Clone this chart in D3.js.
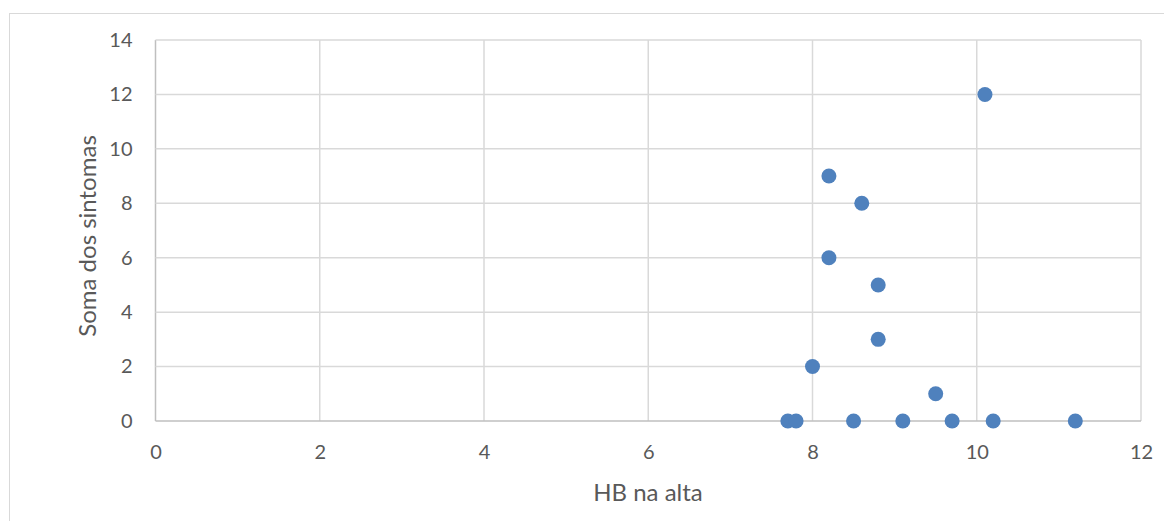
<!DOCTYPE html>
<html>
<head>
<meta charset="utf-8">
<script src="https://cdn.jsdelivr.net/npm/d3@7"></script>
<style>
  html, body { margin: 0; padding: 0; background: #fff; }
  svg { display: block; font-family: Lato, "Open Sans", sans-serif; }
</style>
</head>
<body>
<svg id="chart" width="1164" height="521"></svg>
<script>
// Hemoglobin at discharge vs. sum of symptoms
const hbValues = [10.1, 8.2, 8.6, 8.2, 8.8, 8.8, 8.0, 9.5, 7.7, 7.8, 8.5, 9.1, 9.7, 10.2, 11.2];
const symptomSums = [12, 9, 8, 6, 5, 3, 2, 1, 0, 0, 0, 0, 0, 0, 0];
const xTicks = [0, 2, 4, 6, 8, 10, 12];
const yTicks = [0, 2, 4, 6, 8, 10, 12, 14];
const xTitle = "HB na alta";
const yTitle = "Soma dos sintomas";

const svg = d3.select("#chart");
const W = 1164, H = 521;
const plot = { left: 155.5, right: 1141, top: 40, bottom: 421 };
const textColor = "#595959";

// outer chart frame
svg.append("rect")
  .attr("x", 9.5).attr("y", 13.5)
  .attr("width", W + 10).attr("height", H + 10)
  .attr("fill", "none").attr("stroke", "#d9d9d9").attr("stroke-width", 1);

const x = d3.scaleLinear().domain([0, 12]).range([plot.left, plot.right]);
const y = d3.scaleLinear().domain([0, 14]).range([plot.bottom, plot.top]);

// gridlines
const grid = svg.append("g");
grid.selectAll(".vg").data(xTicks).join("line")
  .attr("x1", d => x(d)).attr("x2", d => x(d))
  .attr("y1", plot.top).attr("y2", plot.bottom)
  .attr("stroke", d => d === 0 ? "#bfbfbf" : "#d9d9d9").attr("stroke-width", 1.5);
grid.selectAll(".hg").data(yTicks).join("line")
  .attr("x1", plot.left).attr("x2", plot.right)
  .attr("y1", d => y(d)).attr("y2", d => y(d))
  .attr("stroke", d => d === 0 ? "#bfbfbf" : "#d9d9d9").attr("stroke-width", 1.5);

// axes (labels only)
const xAxis = d3.axisBottom(x).tickValues(xTicks).tickSize(0).tickPadding(24).tickFormat(d3.format("d"));
const yAxis = d3.axisLeft(y).tickValues(yTicks).tickSize(0).tickPadding(23).tickFormat(d3.format("d"));

const gx = svg.append("g").attr("transform", `translate(0,${plot.bottom})`).call(xAxis);
const gy = svg.append("g").attr("transform", `translate(${plot.left},0)`).call(yAxis);
[gx, gy].forEach(g => {
  g.select(".domain").remove();
  g.selectAll("text").attr("fill", textColor).style("font-size", "20px")
    .style("font-family", "Lato, 'Open Sans', sans-serif");
});

// axis titles
svg.append("text")
  .attr("x", 648).attr("y", 501)
  .attr("text-anchor", "middle").attr("fill", textColor).style("font-size", "24px")
  .text(xTitle);
svg.append("text")
  .attr("transform", `translate(96,236) rotate(-90)`)
  .attr("text-anchor", "middle").attr("fill", textColor).style("font-size", "24px")
  .text(yTitle);

// points
const pts = hbValues.map((v, i) => ({ hb: v, s: symptomSums[i] }));
svg.append("g").selectAll("circle").data(pts).join("circle")
  .attr("cx", d => x(d.hb)).attr("cy", d => y(d.s))
  .attr("r", 7.5).attr("fill", "#4f81bd");
</script>
</body>
</html>
